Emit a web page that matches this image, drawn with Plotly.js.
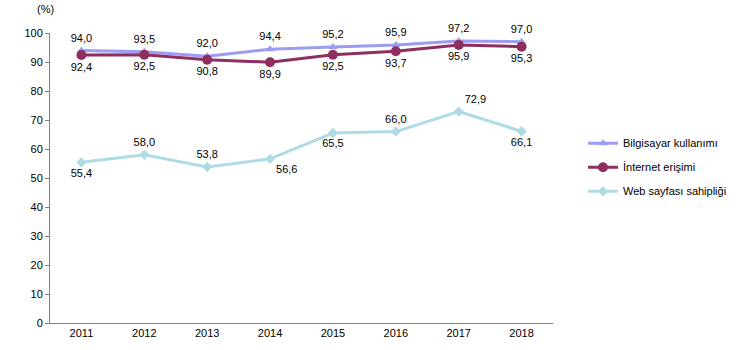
<!DOCTYPE html>
<html><head><meta charset="utf-8">
<script src="https://cdn.plot.ly/plotly-3.0.1.min.js"></script>
<style>html,body{margin:0;padding:0;background:#fff}#c{width:744px;height:350px}</style>
</head><body><div id="c"></div>
<script>
const years = ['2011','2012','2013','2014','2015','2016','2017','2018'];
const bilgisayar = [94.0, 93.5, 92.0, 94.4, 95.2, 95.9, 97.2, 97.0];
const internet = [92.4, 92.5, 90.8, 89.9, 92.5, 93.7, 95.9, 95.3];
const web = [55.4, 58.0, 53.8, 56.6, 65.5, 66.0, 72.9, 66.1];
const webPos = ['bottom center','top center','top center','bottom right','bottom center','top center','top right','bottom center'];
const fmt = v => v.toFixed(1).replace('.', ',');
const font = {family:'Liberation Sans, Arial, sans-serif', size:11, color:'#000'};
const traces = [
 {x:years, y:bilgisayar, name:'Bilgisayar kullanımı', legendgroup:'a', mode:'lines+markers+text', text:bilgisayar.map(fmt), textposition:'top center', textfont:font, cliponaxis:false,
  line:{color:'#9c9cf2', width:3}, marker:{symbol:'triangle-up', size:8, color:'#9c9cf2'}},
 {x:years, y:internet, name:'İnternet erişimi', legendgroup:'b', mode:'lines+markers+text', text:internet.map(fmt), textposition:'bottom center', textfont:font, cliponaxis:false,
  line:{color:'#8e2f60', width:3}, marker:{symbol:'circle', size:10, color:'#8e2f60'}},
 {x:years, y:web, name:'Web sayfası sahipliği', legendgroup:'c', mode:'lines+markers+text', text:web.map(fmt), textposition:webPos, textfont:font, cliponaxis:false,
  line:{color:'#afdce4', width:3}, marker:{symbol:'diamond', size:8, color:'#afdce4'}}
];
const W = 744 - 50 - 10;
const layout = {
 width:744, height:350, margin:{l:50, r:10, t:33, b:27},
 paper_bgcolor:'#fff', plot_bgcolor:'#fff', font:font, showlegend:true,
 xaxis:{type:'category', domain:[0, 503/W], range:[-0.5,7.5], showline:true, linecolor:'#808080', linewidth:1, ticks:'', showgrid:false, zeroline:false, tickfont:font},
 yaxis:{range:[0,100], dtick:10, showline:true, linecolor:'#808080', linewidth:1, ticks:'outside', ticklen:4, tickcolor:'#808080', showgrid:false, zeroline:false, tickfont:font},
 legend:{x:(583-50)/W, y:0.67, xanchor:'left', yanchor:'top', font:font, tracegroupgap:5, itemwidth:30, bgcolor:'rgba(0,0,0,0)'},
 annotations:[{text:'(%)', xref:'paper', yref:'paper', x:-15/W, y:1.11, xanchor:'left', yanchor:'top', showarrow:false, font:font}]
};
Plotly.newPlot('c', traces, layout, {displayModeBar:false, staticPlot:true});
</script></body></html>
